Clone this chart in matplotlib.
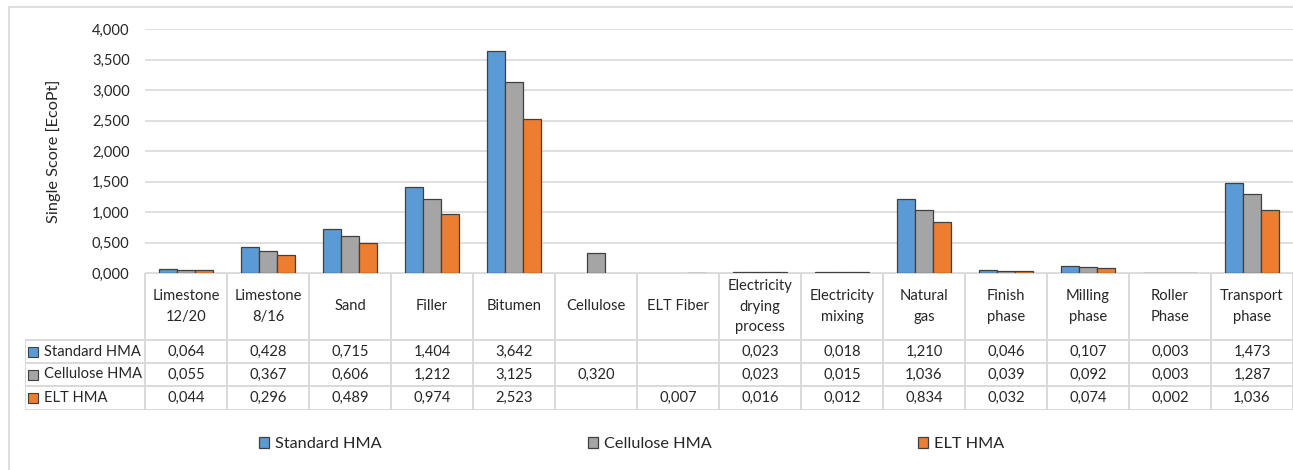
import matplotlib
matplotlib.use("Agg")
import matplotlib.pyplot as plt
from matplotlib.lines import Line2D
import numpy as np

plt.rcParams['font.family'] = ['Lato', 'DejaVu Sans']

categories = ['Limestone\n12/20', 'Limestone\n8/16', 'Sand', 'Filler', 'Bitumen',
              'Cellulose', 'ELT Fiber', 'Electricity\ndrying\nprocess',
              'Electricity\nmixing', 'Natural\ngas', 'Finish\nphase',
              'Milling\nphase', 'Roller\nPhase', 'Transport\nphase']
series_names = ['Standard HMA', 'Cellulose HMA', 'ELT HMA']
standard_hma = [0.064, 0.428, 0.715, 1.404, 3.642, None, None, 0.023, 0.018,
                1.210, 0.046, 0.107, 0.003, 1.473]
cellulose_hma = [0.055, 0.367, 0.606, 1.212, 3.125, 0.320, None, 0.023, 0.015,
                 1.036, 0.039, 0.092, 0.003, 1.287]
elt_hma = [0.044, 0.296, 0.489, 0.974, 2.523, None, 0.007, 0.016, 0.012,
           0.834, 0.032, 0.074, 0.002, 1.036]
yticks = [0.0, 0.5, 1.0, 1.5, 2.0, 2.5, 3.0, 3.5, 4.0]

colors = ['#5B9BD5', '#A5A5A5', '#ED7D31']
grid_c = '#D9D9D9'
txt_c = '#262626'
fs = 10.6
fs_big = 11.7

W, H = 1293, 470
fig = plt.figure(figsize=(W / 100, H / 100), dpi=100)

# chart area border (only left and top fall inside the image)
fig.add_artist(Line2D([9 / W, 9 / W], [0, 1 - 7 / H], color=grid_c, lw=1.2))
fig.add_artist(Line2D([9 / W, 1], [1 - 7 / H, 1 - 7 / H], color=grid_c, lw=1.2))

left, right, y0, ytop = 145, 1293, 273, 29
ax = fig.add_axes([left / W, 1 - y0 / H, (right - left) / W, (y0 - ytop) / H])
n = len(categories)
x = np.arange(n)
bw = 0.223
all_series = [standard_hma, cellulose_hma, elt_hma]
for k, (vals, c) in enumerate(zip(all_series, colors)):
    v = np.array([np.nan if a is None else a for a in vals], dtype=float)
    ax.bar(x + (k - 1) * bw, v, width=bw, color=c, edgecolor='#404040',
           linewidth=0.9, label=series_names[k], zorder=3)

ax.set_xlim(-0.5, n - 0.5)
ax.set_ylim(0, 4)
ax.set_yticks(yticks)
ax.set_yticklabels([f"{t:.3f}".replace('.', ',') for t in yticks],
                   fontsize=fs, color=txt_c)
ax.set_xticks([])
ax.tick_params(axis='y', length=0, pad=11)
ax.grid(axis='y', color=grid_c, lw=1.2, zorder=0)
for s in ['top', 'right', 'left', 'bottom']:
    ax.spines[s].set_visible(False)
ax.set_ylabel('Single Score [EcoPt]', fontsize=fs_big, color=txt_c, labelpad=22)

# data table under the bars
colw = (right - left) / n
lab_w = 120 / colw
tab_bottom, tab_top = 410, 273
th = tab_bottom - tab_top
tab = fig.add_axes([25 / W, 1 - tab_bottom / H, (right - 25) / W, th / H])
tab.set_xlim(-0.5 - lab_w, n - 0.5)
tab.set_ylim(0, th)
tab.axis('off')
row_lines = [0, 24, 47, 70]
lc = dict(color=grid_c, lw=1.4, solid_capstyle='butt')
tab.plot([-0.5, n - 0.5], [th, th], **lc)
for yl in row_lines:
    tab.plot([-0.5 - lab_w, n - 0.5], [yl, yl], **lc)
tab.plot([-0.5 - lab_w, -0.5 - lab_w], [0, 70], **lc)
for i in range(n + 1):
    tab.plot([i - 0.5, i - 0.5], [0, th], **lc)

for i, cat in enumerate(categories):
    tab.text(i, (70 + th) / 2, cat, ha='center', va='center', fontsize=fs,
             color=txt_c, linespacing=1.58)

row_centers = [58.5, 35.5, 12]
for k, vals in enumerate(all_series):
    yc = row_centers[k]
    tab.plot([-0.5 - lab_w + 8 / colw], [yc], marker='s', markersize=7.5,
             color=colors[k], markeredgecolor='#404040', markeredgewidth=0.8)
    tab.text(-0.5 - lab_w + 19 / colw, yc, series_names[k], ha='left',
             va='center', fontsize=fs, color=txt_c)
    for i, v in enumerate(vals):
        if v is not None:
            tab.text(i, yc, f"{v:.3f}".replace('.', ','), ha='center',
                     va='center', fontsize=fs, color=txt_c)

# legend entries evenly spaced along the bottom
handles, labels = ax.get_legend_handles_labels()
for h, lab, xpos in zip(handles, labels, [259, 588, 918]):
    fig.legend([h], [lab], loc='center left',
               bbox_to_anchor=(xpos / W, 1 - 444 / H), frameon=False,
               fontsize=fs_big, handlelength=0.62, handleheight=0.62,
               handletextpad=0.35, borderpad=0, borderaxespad=0,
               labelcolor=txt_c)

fig.savefig('out.png', dpi=100, facecolor='white')
